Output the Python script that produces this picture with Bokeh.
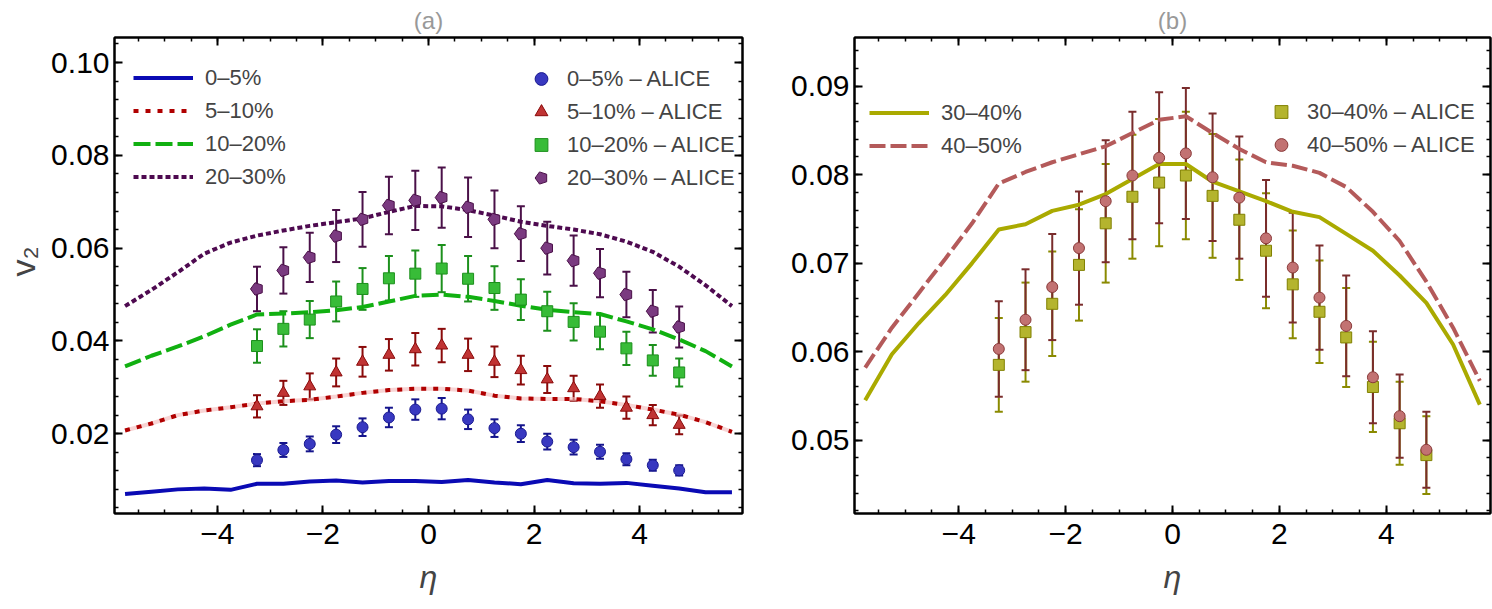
import math
from bokeh.plotting import figure
from bokeh.models import (Range1d, LinearAxis, SingleIntervalTicker, PrintfTickFormatter,
                          Legend, LegendItem, Whisker, TeeHead, ColumnDataSource, Title)
from bokeh.layouts import row
from bokeh.embed import file_html
from bokeh.resources import INLINE

# ---------------- data ----------------
eta_pts = [-3.25, -2.75, -2.25, -1.75, -1.25, -0.75, -0.25, 0.25, 0.75,
           1.25, 1.75, 2.25, 2.75, 3.25, 3.75, 4.25, 4.75]
eta_curve = [-5.75, -5.25, -4.75, -4.25, -3.75, -3.25, -2.75, -2.25, -1.75, -1.25,
             -0.75, -0.25, 0.25, 0.75, 1.25, 1.75, 2.25, 2.75, 3.25, 3.75,
             4.25, 4.75, 5.25, 5.75]

# panel (a) model curves
c_0_5 = [0.0070, 0.0075, 0.0080, 0.0082, 0.0079, 0.0092, 0.0092, 0.0097, 0.0099, 0.0095,
         0.0098, 0.0098, 0.0096, 0.0100, 0.0095, 0.0091, 0.0100, 0.0093, 0.0092, 0.0094,
         0.0088, 0.0082, 0.0074, 0.0074]
c_5_10 = [0.0207, 0.0222, 0.0240, 0.0250, 0.0257, 0.0265, 0.0270, 0.0273, 0.0280, 0.0288,
          0.0294, 0.0297, 0.0297, 0.0293, 0.0282, 0.0276, 0.0275, 0.0275, 0.0270, 0.0262,
          0.0252, 0.0241, 0.0225, 0.0204]
c_10_20 = [0.0345, 0.0368, 0.0388, 0.0410, 0.0435, 0.0457, 0.0459, 0.0462, 0.0466, 0.0473,
           0.0485, 0.0497, 0.0500, 0.0495, 0.0486, 0.0476, 0.0467, 0.0462, 0.0458, 0.0442,
           0.0425, 0.0403, 0.0378, 0.0345]
c_20_30 = [0.0475, 0.0510, 0.0548, 0.0588, 0.0612, 0.0627, 0.0638, 0.0648, 0.0656, 0.0664,
           0.0678, 0.0691, 0.0690, 0.0682, 0.0670, 0.0657, 0.0648, 0.0640, 0.0630, 0.0614,
           0.0592, 0.0560, 0.0520, 0.0475]

# panel (a) ALICE data
d_0_5 = [0.0143, 0.0165, 0.0178, 0.0198, 0.0214, 0.0235, 0.0252, 0.0254, 0.0231, 0.0212,
         0.0200, 0.0183, 0.0171, 0.0161, 0.0145, 0.0132, 0.0121]
e_0_5 = [0.0013, 0.0015, 0.0016, 0.0018, 0.0019, 0.0021, 0.0022, 0.0023, 0.0021, 0.0019,
         0.0018, 0.0017, 0.0016, 0.0015, 0.0013, 0.0012, 0.0011]
d_5_10 = [0.0259, 0.0288, 0.0302, 0.0332, 0.0355, 0.0370, 0.0382, 0.0390, 0.0370, 0.0355,
          0.0337, 0.0317, 0.0298, 0.0281, 0.0256, 0.0240, 0.0219]
e_5_10 = [0.0024, 0.0026, 0.0028, 0.0030, 0.0032, 0.0034, 0.0035, 0.0036, 0.0035, 0.0033,
          0.0031, 0.0029, 0.0027, 0.0025, 0.0024, 0.0022, 0.0020]
d_10_20 = [0.0389, 0.0426, 0.0446, 0.0485, 0.0512, 0.0535, 0.0545, 0.0556, 0.0534, 0.0514,
           0.0489, 0.0464, 0.0441, 0.0420, 0.0384, 0.0358, 0.0332]
e_10_20 = [0.0036, 0.0038, 0.0040, 0.0043, 0.0045, 0.0048, 0.0050, 0.0051, 0.0049, 0.0047,
           0.0044, 0.0042, 0.0040, 0.0038, 0.0036, 0.0033, 0.0030]
d_20_30 = [0.0512, 0.0552, 0.0580, 0.0626, 0.0662, 0.0692, 0.0703, 0.0709, 0.0688, 0.0662,
           0.0631, 0.0600, 0.0573, 0.0546, 0.0500, 0.0464, 0.0430]
e_20_30 = [0.0048, 0.0050, 0.0053, 0.0056, 0.0059, 0.0062, 0.0064, 0.0065, 0.0064, 0.0062,
           0.0059, 0.0057, 0.0054, 0.0052, 0.0049, 0.0046, 0.0044]

# panel (b) model curves
c_30_40 = [0.0545, 0.0597, 0.0632, 0.0664, 0.0700, 0.0738, 0.0744, 0.0759, 0.0766, 0.0778,
           0.0795, 0.0812, 0.0812, 0.0792, 0.0781, 0.0770, 0.0758, 0.0752, 0.0733, 0.0714,
           0.0686, 0.0655, 0.0608, 0.0540]
c_40_50 = [0.0582, 0.0627, 0.0666, 0.0705, 0.0745, 0.0790, 0.0803, 0.0814, 0.0823, 0.0832,
           0.0847, 0.0862, 0.0866, 0.0847, 0.0829, 0.0814, 0.0810, 0.0802, 0.0786, 0.0758,
           0.0725, 0.0679, 0.0627, 0.0567]

# panel (b) ALICE data
d_30_40 = [0.0585, 0.0622, 0.0654, 0.0698, 0.0745, 0.0775, 0.0791, 0.0799, 0.0776, 0.0749,
           0.0714, 0.0676, 0.0645, 0.0616, 0.0560, 0.0519, 0.0483]
e_30_40 = [0.0053, 0.0056, 0.0059, 0.0063, 0.0067, 0.0070, 0.0072, 0.0072, 0.0070, 0.0068,
           0.0065, 0.0061, 0.0058, 0.0056, 0.0051, 0.0047, 0.0044]
d_40_50 = [0.0603, 0.0636, 0.0673, 0.0717, 0.0770, 0.0799, 0.0819, 0.0824, 0.0797, 0.0774,
           0.0728, 0.0695, 0.0661, 0.0629, 0.0571, 0.0527, 0.0489]
e_40_50 = [0.0054, 0.0057, 0.0060, 0.0064, 0.0069, 0.0072, 0.0074, 0.0074, 0.0072, 0.0069,
           0.0066, 0.0062, 0.0059, 0.0057, 0.0052, 0.0047, 0.0043]

x_tick_labels = {-4: "\u22124", -2: "\u22122", 0: "0", 2: "2", 4: "4"}

FONT = "Liberation Sans"


def style_axis(ax, labels=True):
    ax.axis_line_color = "black"
    ax.axis_line_width = 2
    ax.major_tick_in = 8
    ax.major_tick_out = 0
    ax.minor_tick_in = 4
    ax.minor_tick_out = 0
    ax.major_tick_line_color = "black"
    ax.major_tick_line_width = 2
    ax.minor_tick_line_color = "black"
    ax.minor_tick_line_width = 1.5
    if labels:
        ax.major_label_text_font = FONT
        ax.major_label_text_font_size = "30px"
        ax.major_label_text_color = "black"
        ax.major_label_standoff = 5
    else:
        ax.major_label_text_font_size = "0px"
        ax.major_label_text_alpha = 0
        ax.major_label_standoff = 0


def make_panel(title, width, yr, yint, ylabel, mbl, mbr):
    p = figure(width=width, height=609, x_range=Range1d(-5.95, 5.95), y_range=Range1d(*yr),
               output_backend="svg", toolbar_location=None,
               min_border_left=mbl, min_border_right=mbr, min_border_top=37, min_border_bottom=96)
    p.grid.visible = False
    p.outline_line_color = "black"
    p.outline_line_width = 2
    p.background_fill_color = "white"
    p.border_fill_color = "white"
    xt = SingleIntervalTicker(interval=2, num_minor_ticks=4)
    yt = SingleIntervalTicker(interval=yint, num_minor_ticks=5)
    p.xaxis.ticker = xt
    p.yaxis.ticker = yt
    style_axis(p.xaxis[0])
    style_axis(p.yaxis[0])
    p.xaxis.major_label_overrides = x_tick_labels
    p.xaxis.major_label_standoff = 10
    p.yaxis.formatter = PrintfTickFormatter(format="%.2f")
    p.xaxis.axis_label = "\u03b7"
    p.xaxis.axis_label_text_font = FONT
    p.xaxis.axis_label_text_font_size = "32px"
    p.xaxis.axis_label_text_font_style = "italic"
    p.xaxis.axis_label_standoff = 12
    if ylabel:
        p.yaxis.axis_label = ylabel
        p.yaxis.axis_label_text_font = FONT
        p.yaxis.axis_label_text_font_size = "34px"
        p.yaxis.axis_label_text_font_style = "normal"
        p.yaxis.axis_label_standoff = 6
    top = LinearAxis(ticker=xt)
    style_axis(top, labels=False)
    p.add_layout(top, "above")
    right = LinearAxis(ticker=yt)
    style_axis(right, labels=False)
    p.add_layout(right, "right")
    p.add_layout(Title(text=title, align="center", text_font=FONT, text_font_size="24px",
                       text_font_style="normal", text_color="#999999", standoff=8), "above")
    return p


def errbars(p, x, y, e, color):
    src = ColumnDataSource(dict(x=x, lo=[a - b for a, b in zip(y, e)], hi=[a + b for a, b in zip(y, e)]))
    w = Whisker(source=src, base="x", lower="lo", upper="hi", line_color=color, line_width=2,
                upper_head=TeeHead(size=8, line_color=color, line_width=2),
                lower_head=TeeHead(size=8, line_color=color, line_width=2))
    p.add_layout(w)


def legend(p, items, loc, gw, gh, standoff):
    lg = Legend(items=items, location=loc, glyph_width=gw, glyph_height=gh, spacing=0,
                label_standoff=standoff, padding=0, margin=0, border_line_color=None,
                background_fill_alpha=0, label_text_font=FONT, label_text_font_size="22px",
                label_height=gh)
    p.add_layout(lg)


# ---------------- panel (a) ----------------
pa = make_panel("(a)", 784, (0.0028, 0.1054), 0.02, "\u00a0\u00a0\u00a0v\u2082", 114, 42)

ra1 = pa.line(eta_curve, c_0_5, line_color="#0a0ab4", line_width=4)
pa.line(eta_curve, c_5_10, line_color="#f4b8b8", line_width=4, line_alpha=0.6)
ra2 = pa.line(eta_curve, c_5_10, line_color="#b00000", line_width=4, line_dash="5 7")
ra3 = pa.line(eta_curve, c_10_20, line_color="#11b011", line_width=4, line_dash="17 5")
ra4 = pa.line(eta_curve, c_20_30, line_color="#4e0a50", line_width=4, line_dash="5 3")

errbars(pa, eta_pts, d_0_5, e_0_5, "#14148c")
errbars(pa, eta_pts, d_5_10, e_5_10, "#8a0a0a")
errbars(pa, eta_pts, d_10_20, e_10_20, "#1c901c")
errbars(pa, eta_pts, d_20_30, e_20_30, "#4a1048")

ma1 = pa.scatter(eta_pts, d_0_5, marker="circle", size=11, fill_color="#3838c0", line_color="#1a1a90", line_width=1)
ma2 = pa.scatter(eta_pts, d_5_10, marker="triangle", size=12, fill_color="#c03434", line_color="#8a0a0a", line_width=1)
ma3 = pa.scatter(eta_pts, d_10_20, marker="square", size=11, fill_color="#38bc38", line_color="#1c901c", line_width=1)
try:
    ma4 = pa.ngon(x=eta_pts, y=d_20_30, radius=6.5, radius_units="screen", n=5, angle=math.pi / 2,
                  fill_color="#7a3a80", line_color="#4a1048", line_width=1)
except Exception:
    ma4 = pa.scatter(eta_pts, d_20_30, marker="hex", size=12, fill_color="#7a3a80", line_color="#4a1048")

legend(pa, [LegendItem(label="0\u20135%", renderers=[ra1]),
            LegendItem(label="5\u201310%", renderers=[ra2]),
            LegendItem(label="10\u201320%", renderers=[ra3]),
            LegendItem(label="20\u201330%", renderers=[ra4])], (19, 320), 60, 33, 12)
legend(pa, [LegendItem(label="0\u20135% \u2013 ALICE", renderers=[ma1]),
            LegendItem(label="5\u201310% \u2013 ALICE", renderers=[ma2]),
            LegendItem(label="10\u201320% \u2013 ALICE", renderers=[ma3]),
            LegendItem(label="20\u201330% \u2013 ALICE", renderers=[ma4])], (411, 319), 32, 33, 10)

# ---------------- panel (b) ----------------
pb = make_panel("(b)", 708, (0.0417, 0.0955), 0.01, None, 70, 2)

rb1 = pb.line(eta_curve, c_30_40, line_color="#aaaa00", line_width=4)
rb2 = pb.line(eta_curve, c_40_50, line_color="#b45a5a", line_width=4, line_dash="16 5")

errbars(pb, eta_pts, d_30_40, e_30_40, "#8a8a00")
errbars(pb, eta_pts, d_40_50, e_40_50, "#7a2c2c")

mb1 = pb.scatter(eta_pts, d_30_40, marker="square", size=11, fill_color="#b4b42e", line_color="#808000", line_width=1)
mb2 = pb.scatter(eta_pts, d_40_50, marker="circle", size=11, fill_color="#c27272", line_color="#8a3a3a", line_width=1)

legend(pb, [LegendItem(label="30\u201340%", renderers=[rb1]),
            LegendItem(label="40\u201350%", renderers=[rb2])], (15, 351), 60, 33, 12)
legend(pb, [LegendItem(label="30\u201340% \u2013 ALICE", renderers=[mb1]),
            LegendItem(label="40\u201350% \u2013 ALICE", renderers=[mb2])], (411, 352), 32, 33, 10)

layout = row(pa, pb)
open("out.html", "w").write(file_html(layout, INLINE))
